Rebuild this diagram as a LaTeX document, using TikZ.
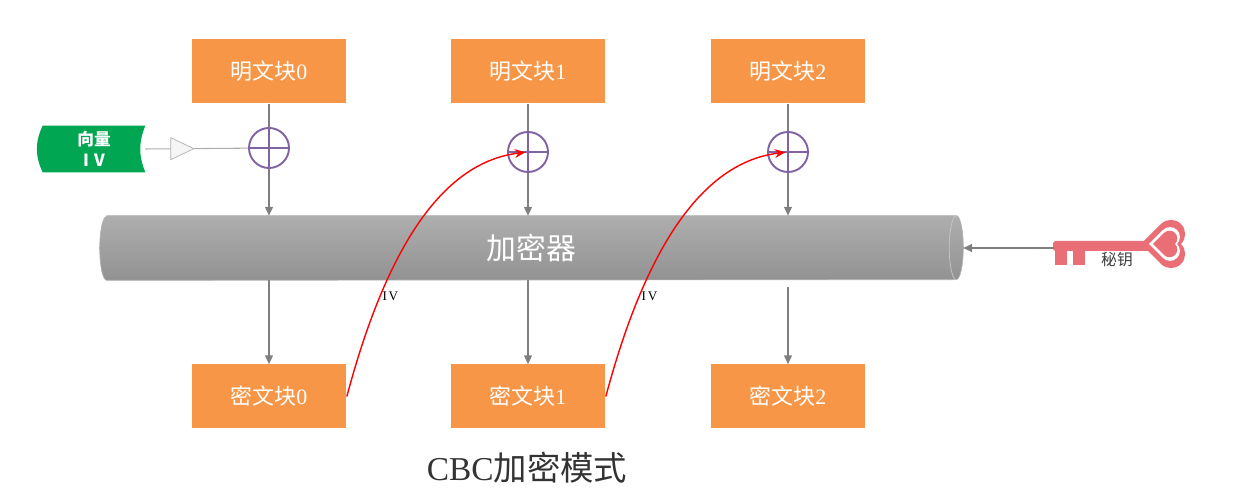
\documentclass[tikz,border=0pt]{standalone}
\usepackage{fontspec}
\setmainfont{Liberation Serif}
\newfontfamily\cjk{Noto Sans CJK SC}
\usepackage{xcolor}
\usepackage{tikz}
\usetikzlibrary{arrows.meta, positioning, calc, backgrounds}
\definecolor{blockorange}{RGB}{247, 150, 70}
\definecolor{xorpurple}{RGB}{128, 100, 162}
\definecolor{ivgreen}{RGB}{0, 166, 81}
\definecolor{keypink}{RGB}{233, 110, 118}
\definecolor{linegray}{RGB}{127, 127, 127}
\definecolor{cyltop}{RGB}{174, 174, 174}
\definecolor{cylbottom}{RGB}{146, 146, 146}

\begin{document}
\begin{tikzpicture}[x=0.02cm, y=0.02cm,
  block/.style={fill=blockorange, minimum width=3.1cm, minimum height=1.28cm,
    text=white, font=\fontsize{12.5}{15}\selectfont},
  xorop/.style={circle, draw=xorpurple, line width=1.1pt, minimum size=0.8cm, inner sep=0pt,
    path picture={\draw[xorpurple, line width=1.1pt]
      (path picture bounding box.north) -- (path picture bounding box.south)
      (path picture bounding box.west) -- (path picture bounding box.east);}},
  arr/.style={linegray, line width=0.8pt, -{Triangle[length=5pt, width=4.5pt]}},
  ivline/.style={red, line width=0.8pt, -{Stealth[length=6pt, width=5pt]}},
  ivtext/.style={text=black, font=\fontsize{7.5}{8}\selectfont, inner sep=1pt}
]
  \useasboundingbox (0,0) rectangle (1235,496);

  % Plaintext and ciphertext blocks
  \foreach \i/\x in {0/269, 1/528, 2/788} {
    \node[block] (p\i) at (\x,424.5) {{\cjk 明文块}\i};
    \node[block] (c\i) at (\x,99.5) {{\cjk 密文块}\i};
  }

  % XOR operators
  \foreach \i/\x/\y in {0/269/348, 1/528/344, 2/788/344} {
    \node[xorop] (x\i) at (\x,\y) {};
  }

  % Encryptor
  \node[minimum width=17.26cm, minimum height=1.28cm, inner sep=0pt, text=white,
    font=\cjk\fontsize{17}{20}\selectfont] (enc) at (531.5,248) {加密器};
  \begin{scope}[on background layer]
    \shadedraw[top color=cyltop, bottom color=cylbottom, draw=gray!60]
      ($(enc.north west)+(7,0)$) -- ($(enc.north east)+(-7,0)$)
      arc[start angle=90, end angle=-90, x radius=7, y radius=32]
      -- ($(enc.south west)+(7,0)$)
      arc[start angle=270, end angle=90, x radius=7, y radius=32] -- cycle;
    \draw[gray!45] ($(enc.north east)+(-7,0)$)
      arc[start angle=90, end angle=270, x radius=7, y radius=32];
  \end{scope}

  % Block arrows
  \foreach \i in {0,1,2} {
    \draw[linegray, line width=0.8pt] (p\i) -- (x\i);
    \draw[arr] (x\i) -- (x\i |- enc.north);
  }
  \draw[arr] (c0 |- enc.south) -- (c0);
  \draw[arr] (c1 |- enc.south) -- (c1);
  \draw[arr, shorten <=4pt] (c2 |- enc.south) -- (c2);

  % Initial vector
  \node[minimum width=2.04cm, minimum height=0.92cm, inner sep=0pt, text=white, align=center,
    font=\cjk\bfseries\fontsize{9.5}{12}\selectfont] (iv) at (94,347) {向量\\I\hspace{3pt}V};
  \begin{scope}[on background layer]
    \fill[ivgreen] (iv.north west) -- (iv.north east) to[bend right=22] (iv.south east)
      -- (iv.south west) to[bend left=25] (iv.north west) -- cycle;
  \end{scope}
  \draw[gray!65, line width=0.6pt] (iv.east) -- coordinate[pos=0.36] (ivmid) (x0);
  \filldraw[draw=gray!60, fill=gray!8] (ivmid) ++(-11.5,11) -- ++(23,-11) -- ++(-23,-11) -- cycle;

  % Chained IV
  \draw[ivline, shorten >=1.5pt] (c0.east) .. controls +(40,150) and +(-85,-10) .. (x1.center)
    node[ivtext, pos=0.25, right] (ivlabel0) {I\hspace{1pt}V};
  \draw[ivline, shorten >=1.5pt] (c1.east) .. controls +(40,150) and +(-85,-10) .. (x2.center)
    node[ivtext, pos=0.25, right] (ivlabel1) {I\hspace{1pt}V};

  % Key
  \fill[keypink, rounded corners=1.5] (1053,245) rectangle (1150,255);
  \fill[keypink] (1055,247) rectangle (1067,231);
  \fill[keypink] (1073,247) rectangle (1085,231);
  \foreach \cx/\a/\c in {1161/20/keypink, 1163/14/white, 1164/11/keypink} {
    \fill[\c] (\cx,252) ++(-\a,0) -- ++(\a,\a)
      arc[start angle=135, end angle=-45, radius=0.7071*\a]
      arc[start angle=45, end angle=-135, radius=0.7071*\a] -- cycle;
  }
  \node[text=black!75, font=\cjk\fontsize{9}{11}\selectfont] (keylabel) at (1117,236) {秘钥};
  \coordinate (keyend) at (1054,248);
  \draw[arr] (keyend) -- (enc.east);

  % Title
  \node[text=black!80, font=\fontsize{19}{22}\selectfont] (title) at (527,28) {CBC{\cjk 加密模式}};
\end{tikzpicture}
\end{document}
